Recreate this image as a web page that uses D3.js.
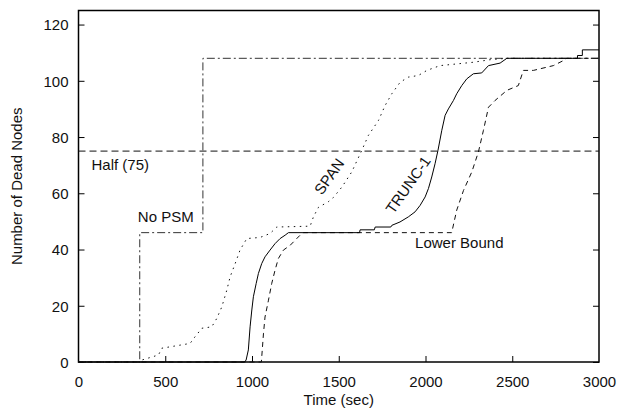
<!DOCTYPE html>
<html>
<head>
<meta charset="utf-8">
<script src="https://cdn.jsdelivr.net/npm/d3@7"></script>
<style>
  body { margin: 0; background: #fff; }
  svg text { font-family: "Liberation Sans", Arial, sans-serif; font-size: 15px; fill: #111; }
</style>
</head>
<body>
<div id="body"></div>
<script>
// data (time in sec, number of dead nodes)
const xTicks = [0, 500, 1000, 1500, 2000, 2500, 3000];
const yTicks = [0, 20, 40, 60, 80, 100, 120];

const noPsm = [[0, 0], [353, 0], [353, 46], [717, 46], [717, 108], [3000, 108]];
const half = [[0, 75], [3000, 75]];

const span = [[0, 0], [365, 0], [365, 0.7], [461, 2.5], [480, 4.9], [643, 6.6], [672, 9], [711, 12],
  [768, 12.5], [797, 15.5], [826, 19.6], [855, 25.6], [874, 30.3], [903, 35], [931, 39.8], [970, 43.9],
  [1047, 44.3], [1104, 45.7], [1143, 48], [1335, 48.3], [1354, 51.6], [1383, 55], [1440, 57],
  [1469, 58.5], [1518, 62.2], [1575, 67.6], [1633, 75.3], [1671, 80.6], [1729, 85.9], [1767, 91.2],
  [1806, 95.4], [1854, 99.5], [1901, 101.3], [1959, 101.9], [2008, 103.7], [2084, 105.4], [2180, 106],
  [2276, 106.6], [2372, 107.5], [2469, 108], [3000, 108]];

const trunc1 = [[0, 0], [957, 0], [966, 0.7], [979, 4.3], [989, 12.5], [999, 18.5], [1008, 23.2],
  [1024, 27.9], [1037, 31.5], [1056, 35], [1075, 37.4], [1104, 39.8], [1133, 42.1], [1162, 43.9],
  [1191, 45.1], [1210, 46], [1620, 46], [1623, 47], [1705, 47], [1710, 48], [1800, 48], [1806, 48.6],
  [1853, 49.8], [1901, 51.6], [1940, 53.4], [1969, 55.7], [1998, 58.7], [2017, 61.7], [2036, 65.8],
  [2055, 70.5], [2072, 75.3], [2094, 82.4], [2113, 87.7], [2132, 90], [2161, 93], [2180, 95.4],
  [2209, 98.3], [2238, 100.7], [2276, 102.5], [2324, 102.8], [2363, 105.4], [2430, 106.3], [2469, 108],
  [2876, 108], [2876, 109], [2904, 109], [2904, 111], [3000, 111]];

const lowerBound = [[0, 0], [1054, 0], [1066, 10], [1075, 16], [1095, 22], [1114, 28], [1133, 32.7],
  [1152, 36.8], [1181, 39.8], [1220, 41.5], [1258, 43.9], [1287, 45.7], [1297, 46], [2151, 46],
  [2180, 54], [2219, 61], [2267, 67.6], [2305, 74.7], [2334, 82.4], [2363, 90.6], [2401, 93],
  [2469, 96.6], [2535, 98.3], [2564, 103.7], [2622, 103.7], [2737, 105.4], [2795, 107.2], [2814, 108],
  [3000, 108]];

const wwidth = 619, hheight = 411;
const padding = { left: 78.5, right: 20, top: 10.5, bottom: 49 };
const width = wwidth - padding.left - padding.right;
const height = hheight - padding.top - padding.bottom;

const svg = d3.select("#body").append("svg")
  .attr("width", wwidth).attr("height", hheight);
const g = svg.append("g")
  .attr("transform", "translate(" + padding.left + "," + padding.top + ")");

const xScale = d3.scaleLinear().domain([0, 3000]).range([0, width]);
const yScale = d3.scaleLinear().domain([0, 125]).range([height, 0]);

// axes, ticks pointing inward
const xAxis = d3.axisBottom(xScale).tickValues(xTicks).tickFormat(d3.format("d"))
  .tickSizeInner(-6).tickSizeOuter(0).tickPadding(14);
const yAxis = d3.axisLeft(yScale).tickValues(yTicks).tickFormat(d3.format("d"))
  .tickSizeInner(-6).tickSizeOuter(0).tickPadding(10);
const yAxisR = d3.axisRight(yScale).tickValues(yTicks).tickSizeInner(-6).tickSizeOuter(0).tickFormat("");

const gx = g.append("g").attr("transform", "translate(0," + height + ")").call(xAxis);
const gy = g.append("g").call(yAxis);
const gyr = g.append("g").attr("transform", "translate(" + width + ",0)").call(yAxisR);
[gx, gy, gyr].forEach(a => {
  a.select(".domain").remove();
  a.selectAll(".tick line").attr("stroke", "#000").attr("stroke-width", 1);
  a.selectAll("text").attr("font-size", null).attr("font-family", null);
});
gy.selectAll(".tick text").attr("dy", "0.36em");
gx.selectAll(".tick line").filter(d => d === 0 || d === 3000).remove();

// frame
g.append("rect")
  .attr("width", width).attr("height", height)
  .attr("fill", "none").attr("stroke", "#000").attr("stroke-width", 1.5);

const line = d3.line().x(d => xScale(d[0])).y(d => yScale(d[1]));

const series = [
  { data: half, dash: "7,4", color: "#111" },
  { data: noPsm, dash: "8,3,2,3", color: "#333" },
  { data: lowerBound, dash: "5,4", color: "#111" },
  { data: span, dash: "1.5,4.5", color: "#111" },
  { data: trunc1, dash: null, color: "#000" }
];
g.selectAll("path.series").data(series).enter().append("path")
  .attr("class", "series")
  .attr("d", d => line(d.data))
  .attr("fill", "none")
  .attr("stroke", d => d.color)
  .attr("stroke-width", 1)
  .attr("stroke-dasharray", d => d.dash);

// curve labels
g.append("text").attr("x", xScale(75)).attr("y", yScale(70) + 5).text("Half (75)");
g.append("text").attr("x", xScale(342)).attr("y", yScale(51.6) + 5).text("No PSM");
g.append("text").attr("x", xScale(1940)).attr("y", yScale(42.3) + 5).text("Lower Bound");
g.append("text")
  .attr("transform", "translate(" + xScale(1445) + "," + yScale(66) + ") rotate(-55)")
  .attr("text-anchor", "middle").attr("dy", "0.35em").text("SPAN");
g.append("text")
  .attr("transform", "translate(" + xScale(1900) + "," + yScale(63) + ") rotate(-55)")
  .attr("text-anchor", "middle").attr("dy", "0.35em").text("TRUNC-1");

// axis titles
svg.append("text")
  .attr("x", padding.left + width / 2).attr("y", 405)
  .attr("text-anchor", "middle").text("Time (sec)");
svg.append("text")
  .attr("transform", "translate(22," + (padding.top + height / 2) + ") rotate(-90)")
  .attr("text-anchor", "middle").text("Number of Dead Nodes");
</script>
</body>
</html>
